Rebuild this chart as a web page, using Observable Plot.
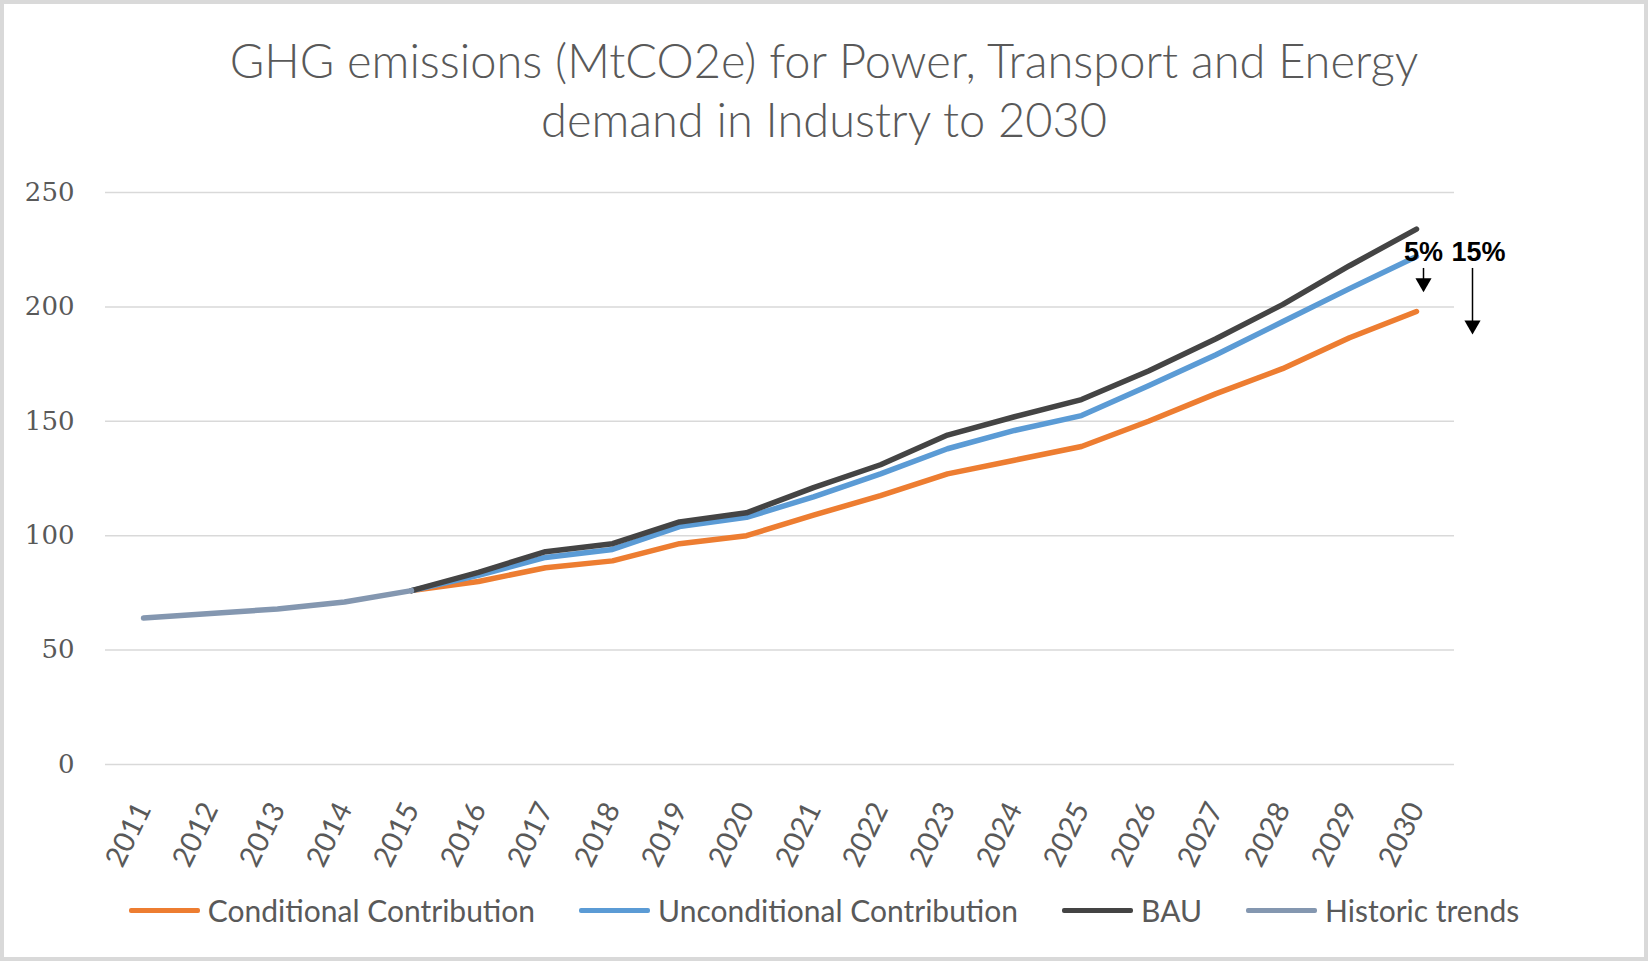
<!DOCTYPE html>
<html><head><meta charset="utf-8">
<script src="https://cdn.jsdelivr.net/npm/d3@7"></script>
<script src="https://cdn.jsdelivr.net/npm/@observablehq/plot@0.6"></script>
<style>
html,body{margin:0;padding:0;background:#fff;}
#wrap{position:relative;width:1648px;height:961px;box-shadow:inset 0 0 0 4px #d9d9d9;background:#fff;overflow:hidden;}
#title{height:160px;box-sizing:border-box;padding-top:31px;text-align:center;font-family:Lato;font-weight:300;font-size:47px;line-height:59px;color:#595959;}
#chart svg{display:block;}
#legend{height:60px;display:flex;justify-content:center;align-items:center;font-family:Lato;font-size:30px;color:#595959;}
.item{display:flex;align-items:center;margin:0 22px;}
.sw{width:71px;height:5px;border-radius:2px;margin-right:8px;}
</style></head><body>
<div id="wrap">
<div id="title">GHG emissions (MtCO2e) for Power, Transport and Energy<br>demand in Industry to 2030</div>
<div id="chart"></div>
<div id="legend"></div>
</div>
<script>
const years = ["2011","2012","2013","2014","2015","2016","2017","2018","2019","2020","2021","2022","2023","2024","2025","2026","2027","2028","2029","2030"];
const historicYears = ["2011","2012","2013","2014","2015"];
const historic = [64, 66, 68, 71, 76];
const forecastYears = ["2015","2016","2017","2018","2019","2020","2021","2022","2023","2024","2025","2026","2027","2028","2029","2030"];
const conditional   = [76, 80, 86, 89, 96.5, 100, 109, 117.5, 127, 133, 139, 150, 162, 173, 186.5, 198];
const unconditional = [76, 82.7, 90.5, 94, 104, 108, 117, 127, 138, 146, 152.5, 165.5, 179, 193.5, 208, 222];
const bau           = [76, 84, 93, 96.5, 106, 110, 121, 131, 144, 152, 159.5, 172, 186, 201, 218, 234];
const seriesNames = ["Conditional Contribution","Unconditional Contribution","BAU","Historic trends"];
const seriesColors = ["#ED7D31","#5B9BD5","#444444","#8497B0"];
const yTicks = [0, 50, 100, 150, 200, 250];
const pctLabels = ["5%", "15%"];
const pctLabelY = [224, 224];
const arrowStart = [216.8, 216.8];
const arrowEnd = [208.5, 190];

const data = [];
[conditional, unconditional, bau].forEach((vals, i) => {
  vals.forEach((v, j) => data.push({year: forecastYears[j], value: v, series: seriesNames[i]}));
});
historic.forEach((v, j) => data.push({year: historicYears[j], value: v, series: seriesNames[3]}));

const lastYear = years[years.length - 1];
const labelRows = pctLabels.map((t, i) => ({x: lastYear, y: pctLabelY[i], text: t}));
const arrowRows = pctLabels.map((t, i) => ({x: lastYear, y1: arrowStart[i], y2: arrowEnd[i]}));
const offsets = [{lab: 7, arr: 7}, {lab: 62, arr: 56}];

const marks = [
  Plot.gridY(yTicks, {stroke: "#d9d9d9", strokeOpacity: 1, strokeWidth: 1.5}),
  Plot.axisY(yTicks, {tickSize: 0, tickPadding: 31, fontSize: 26, fontFamily: "DejaVu Serif", fill: "#595959", label: null}),
  Plot.axisX({tickRotate: -64, tickSize: 0, tickPadding: 40, fontSize: 29, fontFamily: "Lato", fill: "#595959", label: null}),
  Plot.line(data, {x: "year", y: "value", z: "series", stroke: "series", strokeWidth: 5.5, curve: "linear", strokeLinecap: "round", strokeLinejoin: "round"})
];
offsets.forEach((o, i) => {
  marks.push(Plot.text([labelRows[i]], {x: "x", y: "y", text: "text", dx: o.lab, fontSize: 27, fontWeight: "bold", fontFamily: "Liberation Sans", fill: "#000"}));
  marks.push(Plot.ruleX([arrowRows[i]], {x: "x", y1: "y1", y2: "y2", dx: o.arr, stroke: "#000", strokeWidth: 1.5}));
  marks.push(Plot.dot([arrowRows[i]], {x: "x", y: "y2", dx: o.arr, dy: -4.5, symbol: "triangle", r: 6, rotate: 180, fill: "#000", stroke: "none"}));
});

const chart = Plot.plot({
  width: 1648,
  height: 720,
  marginTop: 32,
  marginBottom: 116,
  marginLeft: 105,
  marginRight: 194,
  x: {type: "point", domain: years, padding: 0.5, label: null},
  y: {domain: [0, 250], label: null},
  color: {domain: seriesNames, range: seriesColors},
  style: {background: "transparent", overflow: "visible"},
  marks
});
document.getElementById("chart").appendChild(chart);

const legend = document.getElementById("legend");
seriesNames.forEach((n, i) => {
  const it = document.createElement("div");
  it.className = "item";
  const sw = document.createElement("span");
  sw.className = "sw";
  sw.style.background = seriesColors[i];
  const tx = document.createElement("span");
  tx.textContent = n;
  it.appendChild(sw); it.appendChild(tx);
  legend.appendChild(it);
});
</script>
</body></html>
